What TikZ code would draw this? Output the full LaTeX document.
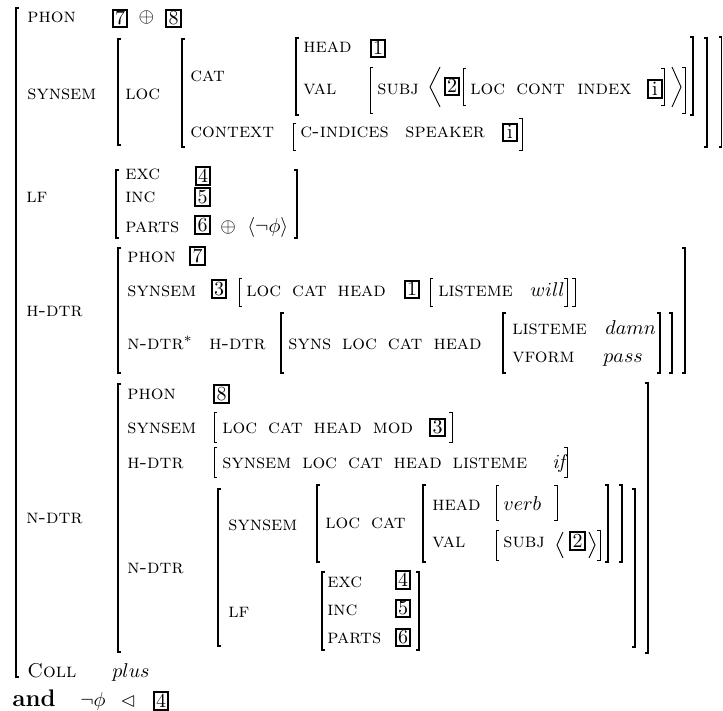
\documentclass[tikz,border=0pt]{standalone}
\usepackage[OT1]{fontenc}
\renewcommand{\rmdefault}{cmr}
\usepackage{amsmath}
\usepackage{amssymb}
\usepackage{tikz}
\newcommand{\attrfont}{\fontsize{10.3pt}{12pt}\selectfont\scshape\spaceskip=5.5pt\relax}
\tikzset{
	attr/.style={anchor=base west, inner sep=0pt, font=\attrfont},
	val/.style={anchor=base west, inner sep=0pt},
	tag/.style={draw, line width=1pt, inner sep=0.8pt, minimum width=7.2pt,
		minimum height=8.6pt, text height=6.4pt, text depth=0pt},
	brk/.style={line width=0.45pt},
	bigbrk/.style={line width=0.9pt},
}
\newcommand{\avmL}[4][brk]{\draw[#1] (#2+3,#3) -- (#2,#3) -- (#2,#4) -- (#2+3,#4);}
\newcommand{\avmR}[4][brk]{\draw[#1] (#2-3,#3) -- (#2,#3) -- (#2,#4) -- (#2-3,#4);}

\begin{document}
\begin{tikzpicture}[x=0.5pt, y=-0.5pt]
	\useasboundingbox (0,0) rectangle (723,711);
	% outermost matrix
	\avmL[bigbrk]{16}{8}{677}
	\node[attr] (phon) at (27,23) {phon};
	\node[tag] (t7) at (120,18.5) {7};
	\node[inner sep=0pt] (oplus) at (146.5,18) {$\oplus$};
	\node[tag] (t8) at (173.5,18.5) {8};
	% synsem
	\node[attr] (synsem) at (27,100) {synsem};
	\avmL[bigbrk]{118}{39}{145}
	\node[attr] (loc) at (125,100) {loc};
	\avmL[bigbrk]{182}{39}{147}
	\node[attr] (cat) at (190,82) {cat};
	\avmL[bigbrk]{296}{38}{115}
	\node[attr] (head) at (303,53) {head};
	\node[tag] (t1) at (378,48.5) {1};
	\node[attr] (val) at (303,95) {val};
	\avmL{370}{67}{113}
	\node[attr] (subj) at (377,95) {subj};
	\draw[brk] (440,67) -- (430,87) -- (440,107);
	\node[tag] (t2) at (452,86.5) {2};
	\avmL{463}{68}{105}
	\node[attr] (lci1) at (470,95) {loc};
	\node[attr] (lci2) at (516,95) {cont};
	\node[attr] (lci3) at (577,95) {index};
	\node[tag] (ti) at (655,89) {i};
	\avmR{664}{68}{105}
	\draw[brk] (672,67) -- (681,87) -- (672,107);
	\avmR{685}{67}{113}
	\avmR[bigbrk]{693}{37}{115}
	\avmR[bigbrk]{707}{38}{147}
	\avmR[bigbrk]{721.5}{37}{147}
	\node[attr] (context) at (190,138) {context};
	\avmL{293}{123}{150}
	\node[attr] (cind) at (300,138) {c-indices};
	\node[attr] (speaker) at (405,138) {speaker};
	\node[tag] (ti2) at (510,132.5) {i};
	\avmR{522}{118}{150}
	% lf
	\node[attr] (lf) at (26,203) {lf};
	\avmL[bigbrk]{116}{170}{238}
	\node[attr] (exc) at (125,180) {exc};
	\node[tag] (t4) at (203,176) {4};
	\node[attr] (inc) at (125,203) {inc};
	\node[tag] (t5) at (202.5,197) {5};
	\node[attr] (parts) at (125,233) {parts};
	\node[tag] (t6) at (202.5,225) {6};
	\node[val] (lfplus) at (220,233) {$\oplus$};
	\node[val] (lfneg) at (247,233) {$\langle\neg\phi\rangle$};
	\avmR[bigbrk]{297}{170}{238}
	% h-dtr
	\node[attr] (hdtr) at (26,317) {h-dtr};
	\avmL[bigbrk]{118}{248}{373}
	\node[attr] (hphon) at (127,263) {phon};
	\node[tag] (h7) at (197.5,256) {7};
	\node[attr] (hsyn) at (127,297) {synsem};
	\node[tag] (h3) at (219,289) {3};
	\avmL{239}{278}{306}
	\node[attr] (hlch) at (246,297) {loc cat head};
	\node[tag] (h1) at (412,289.5) {1};
	\avmL{430}{278}{306}
	\node[attr] (hlist) at (438,297) {listeme};
	\node[val] (will) at (530,297) {$will$};
	\avmR{567}{278}{306}
	\avmR{575}{278}{306}
	\node[attr] (hnd) at (127,350) {n-dtr$^*$};
	\node[attr] (hhd) at (209,350) {h-dtr};
	\avmL[bigbrk]{281}{313}{373}
	\node[attr] (syns) at (288,350) {syns loc cat head};
	\avmL[bigbrk]{503}{313}{373}
	\node[attr] (hlist2) at (512,335) {listeme};
	\node[val] (damn) at (605,335) {$damn$};
	\node[attr] (vform) at (512,363) {vform};
	\node[val] (pass) at (603,363) {$pass$};
	\avmR[bigbrk]{660}{313}{373}
	\avmR[bigbrk]{672}{313}{373}
	\avmR[bigbrk]{685}{248}{373}
	% n-dtr
	\node[attr] (ndtr) at (26,523) {n-dtr};
	\avmL[bigbrk]{118}{384}{652}
	\node[attr] (nphon) at (127,399) {phon};
	\node[tag] (n8) at (221.5,394) {8};
	\node[attr] (nsyn) at (127,433) {synsem};
	\avmL{214}{412}{442}
	\node[attr] (nmod) at (222,433) {loc cat head mod};
	\node[tag] (n3) at (437.5,427.5) {3};
	\avmR{452}{412}{442}
	\node[attr] (nhdtr) at (127,468) {h-dtr};
	\avmL{214}{447}{477}
	\node[attr] (nlist) at (222,468) {synsem loc cat head listeme};
	\node[val] (if) at (552,468) {\textit{if}};
	\avmR{567}{447}{477}
	\node[attr] (nndtr) at (127,573) {n-dtr};
	\avmL[bigbrk]{218}{489}{646}
	\node[attr] (nnsyn) at (228,530) {synsem};
	\avmL[bigbrk]{317}{485}{562}
	\node[attr] (nloccat) at (325,528) {loc cat};
	\avmL[bigbrk]{423}{485}{562}
	\node[attr] (nhead) at (432,510) {head};
	\avmL{496}{485}{520}
	\node[val] (verb) at (503,510) {$verb$};
	\avmR{557}{485}{520}
	\node[attr] (nval) at (432,547) {val};
	\avmL{496}{530}{560}
	\node[attr] (nsubj) at (503,547) {subj};
	\draw[brk] (563,532) -- (557,545) -- (563,558);
	\node[tag] (n2) at (577.5,541) {2};
	\draw[brk] (589,532) -- (595,545) -- (589,558);
	\avmR{600}{530}{560}
	\avmR[bigbrk]{608}{485}{562}
	\avmR[bigbrk]{622}{485}{562}
	\node[attr] (nlf) at (228,617) {lf};
	\avmL[bigbrk]{322}{572}{650}
	\node[attr] (nexc) at (327,587) {exc};
	\node[tag] (n4) at (403,580) {4};
	\node[attr] (ninc) at (327,615) {inc};
	\node[tag] (n5) at (403,608.5) {5};
	\node[attr] (nparts) at (327,643) {parts};
	\node[tag] (n6) at (403,637.5) {6};
	\avmR[bigbrk]{419}{572}{650}
	\avmR[bigbrk]{635}{489}{647}
	\avmR[bigbrk]{648}{383}{653}
	% coll
	\node[val] (coll) at (27,677) {\attrfont Coll};
	\node[val] (plus) at (112,677) {$plus$};
	% and-clause
	\node[val, font=\large\bfseries] (and) at (12,706) {and};
	\node[val] (negphi) at (80,706) {$\neg\phi$};
	\node[val] (lhd) at (120,706) {$\lhd$};
	\node[tag] (a4) at (161,701) {4};
\end{tikzpicture}
\end{document}
